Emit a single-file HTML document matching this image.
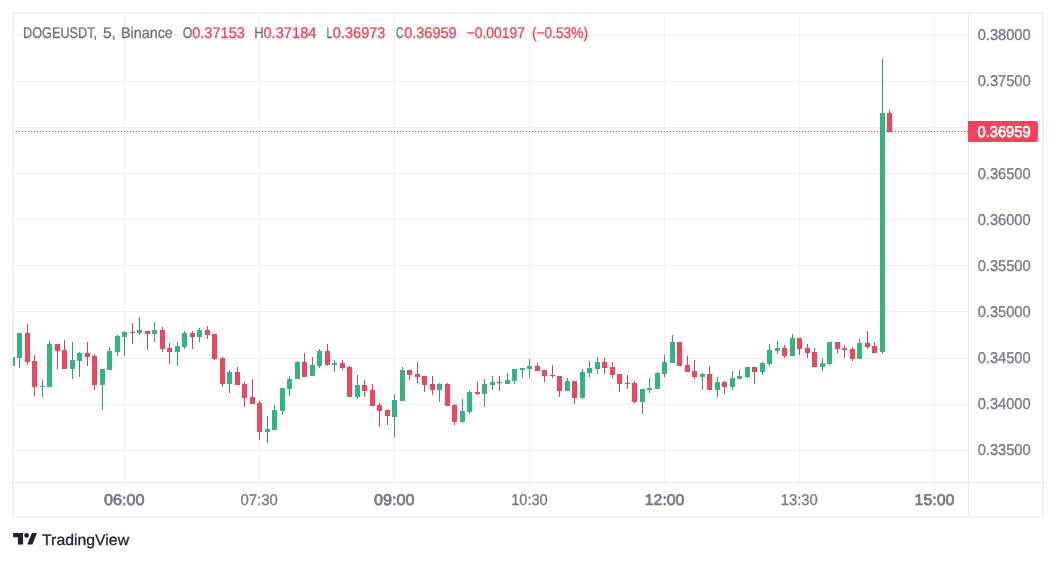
<!DOCTYPE html>
<html lang="en">
<head>
<meta charset="utf-8">
<title>DOGEUSDT chart</title>
<style>
html,body{margin:0;padding:0;background:#fff;}
body{width:1056px;height:561px;overflow:hidden;font-family:"Liberation Sans",sans-serif;}
svg{display:block;will-change:transform;}
</style>
</head>
<body>
<svg width="1056" height="561" viewBox="0 0 1056 561" text-rendering="geometricPrecision" font-family="'Liberation Sans', sans-serif">
<rect x="0" y="0" width="1056" height="561" fill="#fff"/>
<g fill="#EFEFEF" shape-rendering="crispEdges">
<rect x="14" y="35" width="954" height="1"/>
<rect x="14" y="81" width="954" height="1"/>
<rect x="14" y="127" width="954" height="1"/>
<rect x="14" y="173" width="954" height="1"/>
<rect x="14" y="219" width="954" height="1"/>
<rect x="14" y="265" width="954" height="1"/>
<rect x="14" y="311" width="954" height="1"/>
<rect x="14" y="358" width="954" height="1"/>
<rect x="14" y="404" width="954" height="1"/>
<rect x="14" y="450" width="954" height="1"/>
<rect x="124" y="14" width="1" height="468"/>
<rect x="259" y="14" width="1" height="468"/>
<rect x="394" y="14" width="1" height="468"/>
<rect x="529" y="14" width="1" height="468"/>
<rect x="664" y="14" width="1" height="468"/>
<rect x="799" y="14" width="1" height="468"/>
<rect x="934" y="14" width="1" height="468"/>
</g>
<g fill="#F0F0F1" shape-rendering="crispEdges">
<rect x="12" y="12" width="1032" height="2"/>
<rect x="12" y="516" width="1032" height="2"/>
<rect x="12" y="12" width="2" height="506"/>
<rect x="1042" y="12" width="2" height="506"/>
</g>
<g fill="#E9E9EA" shape-rendering="crispEdges">
<rect x="968" y="14" width="1" height="502"/>
<rect x="14" y="482" width="1028" height="1"/>
</g>
<rect x="14" y="130" width="954" height="3" fill="#FFF0F3" shape-rendering="crispEdges"/>
<g fill="#B4586B" shape-rendering="crispEdges">
<path d="M16 131h1v1h-1zM19 131h1v1h-1zM22 131h1v1h-1zM25 131h1v1h-1zM28 131h1v1h-1zM31 131h1v1h-1zM34 131h1v1h-1zM37 131h1v1h-1zM40 131h1v1h-1zM43 131h1v1h-1zM46 131h1v1h-1zM49 131h1v1h-1zM52 131h1v1h-1zM55 131h1v1h-1zM58 131h1v1h-1zM61 131h1v1h-1zM64 131h1v1h-1zM67 131h1v1h-1zM70 131h1v1h-1zM73 131h1v1h-1zM76 131h1v1h-1zM79 131h1v1h-1zM82 131h1v1h-1zM85 131h1v1h-1zM88 131h1v1h-1zM91 131h1v1h-1zM94 131h1v1h-1zM97 131h1v1h-1zM100 131h1v1h-1zM103 131h1v1h-1zM106 131h1v1h-1zM109 131h1v1h-1zM112 131h1v1h-1zM115 131h1v1h-1zM118 131h1v1h-1zM121 131h1v1h-1zM124 131h1v1h-1zM127 131h1v1h-1zM130 131h1v1h-1zM133 131h1v1h-1zM136 131h1v1h-1zM139 131h1v1h-1zM142 131h1v1h-1zM145 131h1v1h-1zM148 131h1v1h-1zM151 131h1v1h-1zM154 131h1v1h-1zM157 131h1v1h-1zM160 131h1v1h-1zM163 131h1v1h-1zM166 131h1v1h-1zM169 131h1v1h-1zM172 131h1v1h-1zM175 131h1v1h-1zM178 131h1v1h-1zM181 131h1v1h-1zM184 131h1v1h-1zM187 131h1v1h-1zM190 131h1v1h-1zM193 131h1v1h-1zM196 131h1v1h-1zM199 131h1v1h-1zM202 131h1v1h-1zM205 131h1v1h-1zM208 131h1v1h-1zM211 131h1v1h-1zM214 131h1v1h-1zM217 131h1v1h-1zM220 131h1v1h-1zM223 131h1v1h-1zM226 131h1v1h-1zM229 131h1v1h-1zM232 131h1v1h-1zM235 131h1v1h-1zM238 131h1v1h-1zM241 131h1v1h-1zM244 131h1v1h-1zM247 131h1v1h-1zM250 131h1v1h-1zM253 131h1v1h-1zM256 131h1v1h-1zM259 131h1v1h-1zM262 131h1v1h-1zM265 131h1v1h-1zM268 131h1v1h-1zM271 131h1v1h-1zM274 131h1v1h-1zM277 131h1v1h-1zM280 131h1v1h-1zM283 131h1v1h-1zM286 131h1v1h-1zM289 131h1v1h-1zM292 131h1v1h-1zM295 131h1v1h-1zM298 131h1v1h-1zM301 131h1v1h-1zM304 131h1v1h-1zM307 131h1v1h-1zM310 131h1v1h-1zM313 131h1v1h-1zM316 131h1v1h-1zM319 131h1v1h-1zM322 131h1v1h-1zM325 131h1v1h-1zM328 131h1v1h-1zM331 131h1v1h-1zM334 131h1v1h-1zM337 131h1v1h-1zM340 131h1v1h-1zM343 131h1v1h-1zM346 131h1v1h-1zM349 131h1v1h-1zM352 131h1v1h-1zM355 131h1v1h-1zM358 131h1v1h-1zM361 131h1v1h-1zM364 131h1v1h-1zM367 131h1v1h-1zM370 131h1v1h-1zM373 131h1v1h-1zM376 131h1v1h-1zM379 131h1v1h-1zM382 131h1v1h-1zM385 131h1v1h-1zM388 131h1v1h-1zM391 131h1v1h-1zM394 131h1v1h-1zM397 131h1v1h-1zM400 131h1v1h-1zM403 131h1v1h-1zM406 131h1v1h-1zM409 131h1v1h-1zM412 131h1v1h-1zM415 131h1v1h-1zM418 131h1v1h-1zM421 131h1v1h-1zM424 131h1v1h-1zM427 131h1v1h-1zM430 131h1v1h-1zM433 131h1v1h-1zM436 131h1v1h-1zM439 131h1v1h-1zM442 131h1v1h-1zM445 131h1v1h-1zM448 131h1v1h-1zM451 131h1v1h-1zM454 131h1v1h-1zM457 131h1v1h-1zM460 131h1v1h-1zM463 131h1v1h-1zM466 131h1v1h-1zM469 131h1v1h-1zM472 131h1v1h-1zM475 131h1v1h-1zM478 131h1v1h-1zM481 131h1v1h-1zM484 131h1v1h-1zM487 131h1v1h-1zM490 131h1v1h-1zM493 131h1v1h-1zM496 131h1v1h-1zM499 131h1v1h-1zM502 131h1v1h-1zM505 131h1v1h-1zM508 131h1v1h-1zM511 131h1v1h-1zM514 131h1v1h-1zM517 131h1v1h-1zM520 131h1v1h-1zM523 131h1v1h-1zM526 131h1v1h-1zM529 131h1v1h-1zM532 131h1v1h-1zM535 131h1v1h-1zM538 131h1v1h-1zM541 131h1v1h-1zM544 131h1v1h-1zM547 131h1v1h-1zM550 131h1v1h-1zM553 131h1v1h-1zM556 131h1v1h-1zM559 131h1v1h-1zM562 131h1v1h-1zM565 131h1v1h-1zM568 131h1v1h-1zM571 131h1v1h-1zM574 131h1v1h-1zM577 131h1v1h-1zM580 131h1v1h-1zM583 131h1v1h-1zM586 131h1v1h-1zM589 131h1v1h-1zM592 131h1v1h-1zM595 131h1v1h-1zM598 131h1v1h-1zM601 131h1v1h-1zM604 131h1v1h-1zM607 131h1v1h-1zM610 131h1v1h-1zM613 131h1v1h-1zM616 131h1v1h-1zM619 131h1v1h-1zM622 131h1v1h-1zM625 131h1v1h-1zM628 131h1v1h-1zM631 131h1v1h-1zM634 131h1v1h-1zM637 131h1v1h-1zM640 131h1v1h-1zM643 131h1v1h-1zM646 131h1v1h-1zM649 131h1v1h-1zM652 131h1v1h-1zM655 131h1v1h-1zM658 131h1v1h-1zM661 131h1v1h-1zM664 131h1v1h-1zM667 131h1v1h-1zM670 131h1v1h-1zM673 131h1v1h-1zM676 131h1v1h-1zM679 131h1v1h-1zM682 131h1v1h-1zM685 131h1v1h-1zM688 131h1v1h-1zM691 131h1v1h-1zM694 131h1v1h-1zM697 131h1v1h-1zM700 131h1v1h-1zM703 131h1v1h-1zM706 131h1v1h-1zM709 131h1v1h-1zM712 131h1v1h-1zM715 131h1v1h-1zM718 131h1v1h-1zM721 131h1v1h-1zM724 131h1v1h-1zM727 131h1v1h-1zM730 131h1v1h-1zM733 131h1v1h-1zM736 131h1v1h-1zM739 131h1v1h-1zM742 131h1v1h-1zM745 131h1v1h-1zM748 131h1v1h-1zM751 131h1v1h-1zM754 131h1v1h-1zM757 131h1v1h-1zM760 131h1v1h-1zM763 131h1v1h-1zM766 131h1v1h-1zM769 131h1v1h-1zM772 131h1v1h-1zM775 131h1v1h-1zM778 131h1v1h-1zM781 131h1v1h-1zM784 131h1v1h-1zM787 131h1v1h-1zM790 131h1v1h-1zM793 131h1v1h-1zM796 131h1v1h-1zM799 131h1v1h-1zM802 131h1v1h-1zM805 131h1v1h-1zM808 131h1v1h-1zM811 131h1v1h-1zM814 131h1v1h-1zM817 131h1v1h-1zM820 131h1v1h-1zM823 131h1v1h-1zM826 131h1v1h-1zM829 131h1v1h-1zM832 131h1v1h-1zM835 131h1v1h-1zM838 131h1v1h-1zM841 131h1v1h-1zM844 131h1v1h-1zM847 131h1v1h-1zM850 131h1v1h-1zM853 131h1v1h-1zM856 131h1v1h-1zM859 131h1v1h-1zM862 131h1v1h-1zM865 131h1v1h-1zM868 131h1v1h-1zM871 131h1v1h-1zM874 131h1v1h-1zM877 131h1v1h-1zM880 131h1v1h-1zM883 131h1v1h-1zM886 131h1v1h-1zM889 131h1v1h-1zM892 131h1v1h-1zM895 131h1v1h-1zM898 131h1v1h-1zM901 131h1v1h-1zM904 131h1v1h-1zM907 131h1v1h-1zM910 131h1v1h-1zM913 131h1v1h-1zM916 131h1v1h-1zM919 131h1v1h-1zM922 131h1v1h-1zM925 131h1v1h-1zM928 131h1v1h-1zM931 131h1v1h-1zM934 131h1v1h-1zM937 131h1v1h-1zM940 131h1v1h-1zM943 131h1v1h-1zM946 131h1v1h-1zM949 131h1v1h-1zM952 131h1v1h-1zM955 131h1v1h-1zM958 131h1v1h-1zM961 131h1v1h-1zM964 131h1v1h-1zM967 131h1v1h-1z"/>
</g>
<clipPath id="cp"><rect x="13" y="14" width="955" height="468"/></clipPath>
<g clip-path="url(#cp)" shape-rendering="crispEdges">
<rect x="10" y="357" width="5" height="9" fill="#44AB82"/>
<rect x="11" y="358" width="3" height="7" fill="#27BB84"/>
<rect x="19" y="333" width="1" height="35" fill="#35966F"/>
<rect x="17" y="333" width="5" height="25" fill="#44AB82"/>
<rect x="18" y="334" width="3" height="23" fill="#27BB84"/>
<rect x="27" y="324" width="1" height="41" fill="#CB425B"/>
<rect x="25" y="333" width="5" height="29" fill="#DA4A60"/>
<rect x="26" y="334" width="3" height="27" fill="#F5445B"/>
<rect x="34" y="355" width="1" height="41" fill="#CB425B"/>
<rect x="32" y="361" width="5" height="26" fill="#DA4A60"/>
<rect x="33" y="362" width="3" height="24" fill="#F5445B"/>
<rect x="42" y="380" width="1" height="17" fill="#35966F"/>
<rect x="40" y="386" width="5" height="1" fill="#44AB82"/>
<rect x="41" y="386" width="3" height="1" fill="#27BB84"/>
<rect x="49" y="341" width="1" height="46" fill="#35966F"/>
<rect x="47" y="344" width="5" height="43" fill="#44AB82"/>
<rect x="48" y="345" width="3" height="41" fill="#27BB84"/>
<rect x="57" y="344" width="1" height="25" fill="#CB425B"/>
<rect x="55" y="344" width="5" height="7" fill="#DA4A60"/>
<rect x="56" y="345" width="3" height="5" fill="#F5445B"/>
<rect x="64" y="340" width="1" height="29" fill="#CB425B"/>
<rect x="62" y="350" width="5" height="19" fill="#DA4A60"/>
<rect x="63" y="351" width="3" height="17" fill="#F5445B"/>
<rect x="72" y="342" width="1" height="37" fill="#35966F"/>
<rect x="70" y="360" width="5" height="9" fill="#44AB82"/>
<rect x="71" y="361" width="3" height="7" fill="#27BB84"/>
<rect x="79" y="352" width="1" height="25" fill="#35966F"/>
<rect x="77" y="353" width="5" height="8" fill="#44AB82"/>
<rect x="78" y="354" width="3" height="6" fill="#27BB84"/>
<rect x="87" y="342" width="1" height="24" fill="#CB425B"/>
<rect x="85" y="353" width="5" height="4" fill="#DA4A60"/>
<rect x="86" y="354" width="3" height="2" fill="#F5445B"/>
<rect x="94" y="354" width="1" height="36" fill="#CB425B"/>
<rect x="92" y="356" width="5" height="29" fill="#DA4A60"/>
<rect x="93" y="357" width="3" height="27" fill="#F5445B"/>
<rect x="102" y="369" width="1" height="41" fill="#35966F"/>
<rect x="100" y="369" width="5" height="16" fill="#44AB82"/>
<rect x="101" y="370" width="3" height="14" fill="#27BB84"/>
<rect x="109" y="347" width="1" height="23" fill="#35966F"/>
<rect x="107" y="351" width="5" height="19" fill="#44AB82"/>
<rect x="108" y="352" width="3" height="17" fill="#27BB84"/>
<rect x="117" y="335" width="1" height="21" fill="#35966F"/>
<rect x="115" y="336" width="5" height="16" fill="#44AB82"/>
<rect x="116" y="337" width="3" height="14" fill="#27BB84"/>
<rect x="124" y="331" width="1" height="25" fill="#35966F"/>
<rect x="122" y="332" width="5" height="5" fill="#44AB82"/>
<rect x="123" y="333" width="3" height="3" fill="#27BB84"/>
<rect x="132" y="323" width="1" height="21" fill="#CB425B"/>
<rect x="130" y="332" width="5" height="1" fill="#DA4A60"/>
<rect x="131" y="332" width="3" height="1" fill="#F5445B"/>
<rect x="139" y="317" width="1" height="18" fill="#35966F"/>
<rect x="137" y="330" width="5" height="3" fill="#44AB82"/>
<rect x="138" y="331" width="3" height="1" fill="#27BB84"/>
<rect x="147" y="331" width="1" height="19" fill="#CB425B"/>
<rect x="145" y="331" width="5" height="3" fill="#DA4A60"/>
<rect x="146" y="332" width="3" height="1" fill="#F5445B"/>
<rect x="154" y="322" width="1" height="20" fill="#35966F"/>
<rect x="152" y="330" width="5" height="4" fill="#44AB82"/>
<rect x="153" y="331" width="3" height="2" fill="#27BB84"/>
<rect x="162" y="327" width="1" height="25" fill="#CB425B"/>
<rect x="160" y="330" width="5" height="19" fill="#DA4A60"/>
<rect x="161" y="331" width="3" height="17" fill="#F5445B"/>
<rect x="169" y="343" width="1" height="21" fill="#CB425B"/>
<rect x="167" y="348" width="5" height="4" fill="#DA4A60"/>
<rect x="168" y="349" width="3" height="2" fill="#F5445B"/>
<rect x="177" y="342" width="1" height="24" fill="#35966F"/>
<rect x="175" y="346" width="5" height="6" fill="#44AB82"/>
<rect x="176" y="347" width="3" height="4" fill="#27BB84"/>
<rect x="184" y="331" width="1" height="18" fill="#35966F"/>
<rect x="182" y="333" width="5" height="14" fill="#44AB82"/>
<rect x="183" y="334" width="3" height="12" fill="#27BB84"/>
<rect x="192" y="331" width="1" height="18" fill="#CB425B"/>
<rect x="190" y="333" width="5" height="4" fill="#DA4A60"/>
<rect x="191" y="334" width="3" height="2" fill="#F5445B"/>
<rect x="199" y="328" width="1" height="14" fill="#35966F"/>
<rect x="197" y="330" width="5" height="7" fill="#44AB82"/>
<rect x="198" y="331" width="3" height="5" fill="#27BB84"/>
<rect x="207" y="326" width="1" height="13" fill="#CB425B"/>
<rect x="205" y="330" width="5" height="5" fill="#DA4A60"/>
<rect x="206" y="331" width="3" height="3" fill="#F5445B"/>
<rect x="214" y="334" width="1" height="26" fill="#CB425B"/>
<rect x="212" y="334" width="5" height="25" fill="#DA4A60"/>
<rect x="213" y="335" width="3" height="23" fill="#F5445B"/>
<rect x="222" y="357" width="1" height="30" fill="#CB425B"/>
<rect x="220" y="358" width="5" height="26" fill="#DA4A60"/>
<rect x="221" y="359" width="3" height="24" fill="#F5445B"/>
<rect x="229" y="370" width="1" height="23" fill="#35966F"/>
<rect x="227" y="372" width="5" height="12" fill="#44AB82"/>
<rect x="228" y="373" width="3" height="10" fill="#27BB84"/>
<rect x="237" y="367" width="1" height="18" fill="#CB425B"/>
<rect x="235" y="372" width="5" height="13" fill="#DA4A60"/>
<rect x="236" y="373" width="3" height="11" fill="#F5445B"/>
<rect x="244" y="382" width="1" height="25" fill="#CB425B"/>
<rect x="242" y="384" width="5" height="14" fill="#DA4A60"/>
<rect x="243" y="385" width="3" height="12" fill="#F5445B"/>
<rect x="252" y="379" width="1" height="25" fill="#CB425B"/>
<rect x="250" y="397" width="5" height="7" fill="#DA4A60"/>
<rect x="251" y="398" width="3" height="5" fill="#F5445B"/>
<rect x="259" y="401" width="1" height="39" fill="#CB425B"/>
<rect x="257" y="403" width="5" height="29" fill="#DA4A60"/>
<rect x="258" y="404" width="3" height="27" fill="#F5445B"/>
<rect x="267" y="416" width="1" height="27" fill="#35966F"/>
<rect x="265" y="429" width="5" height="3" fill="#44AB82"/>
<rect x="266" y="430" width="3" height="1" fill="#27BB84"/>
<rect x="274" y="405" width="1" height="25" fill="#35966F"/>
<rect x="272" y="410" width="5" height="20" fill="#44AB82"/>
<rect x="273" y="411" width="3" height="18" fill="#27BB84"/>
<rect x="282" y="388" width="1" height="27" fill="#35966F"/>
<rect x="280" y="388" width="5" height="23" fill="#44AB82"/>
<rect x="281" y="389" width="3" height="21" fill="#27BB84"/>
<rect x="289" y="376" width="1" height="20" fill="#35966F"/>
<rect x="287" y="379" width="5" height="10" fill="#44AB82"/>
<rect x="288" y="380" width="3" height="8" fill="#27BB84"/>
<rect x="297" y="361" width="1" height="18" fill="#35966F"/>
<rect x="295" y="362" width="5" height="17" fill="#44AB82"/>
<rect x="296" y="363" width="3" height="15" fill="#27BB84"/>
<rect x="304" y="353" width="1" height="24" fill="#CB425B"/>
<rect x="302" y="362" width="5" height="15" fill="#DA4A60"/>
<rect x="303" y="363" width="3" height="13" fill="#F5445B"/>
<rect x="312" y="357" width="1" height="19" fill="#35966F"/>
<rect x="310" y="365" width="5" height="11" fill="#44AB82"/>
<rect x="311" y="366" width="3" height="9" fill="#27BB84"/>
<rect x="319" y="349" width="1" height="19" fill="#35966F"/>
<rect x="317" y="351" width="5" height="15" fill="#44AB82"/>
<rect x="318" y="352" width="3" height="13" fill="#27BB84"/>
<rect x="327" y="344" width="1" height="22" fill="#CB425B"/>
<rect x="325" y="351" width="5" height="14" fill="#DA4A60"/>
<rect x="326" y="352" width="3" height="12" fill="#F5445B"/>
<rect x="334" y="360" width="1" height="12" fill="#35966F"/>
<rect x="332" y="363" width="5" height="2" fill="#44AB82"/>
<rect x="333" y="363" width="3" height="2" fill="#27BB84"/>
<rect x="342" y="360" width="1" height="10" fill="#CB425B"/>
<rect x="340" y="363" width="5" height="5" fill="#DA4A60"/>
<rect x="341" y="364" width="3" height="3" fill="#F5445B"/>
<rect x="349" y="366" width="1" height="31" fill="#CB425B"/>
<rect x="347" y="367" width="5" height="30" fill="#DA4A60"/>
<rect x="348" y="368" width="3" height="28" fill="#F5445B"/>
<rect x="357" y="375" width="1" height="24" fill="#35966F"/>
<rect x="355" y="385" width="5" height="12" fill="#44AB82"/>
<rect x="356" y="386" width="3" height="10" fill="#27BB84"/>
<rect x="364" y="380" width="1" height="17" fill="#CB425B"/>
<rect x="362" y="385" width="5" height="6" fill="#DA4A60"/>
<rect x="363" y="386" width="3" height="4" fill="#F5445B"/>
<rect x="372" y="384" width="1" height="22" fill="#CB425B"/>
<rect x="370" y="390" width="5" height="16" fill="#DA4A60"/>
<rect x="371" y="391" width="3" height="14" fill="#F5445B"/>
<rect x="379" y="403" width="1" height="24" fill="#CB425B"/>
<rect x="377" y="405" width="5" height="6" fill="#DA4A60"/>
<rect x="378" y="406" width="3" height="4" fill="#F5445B"/>
<rect x="387" y="410" width="1" height="15" fill="#CB425B"/>
<rect x="385" y="410" width="5" height="6" fill="#DA4A60"/>
<rect x="386" y="411" width="3" height="4" fill="#F5445B"/>
<rect x="394" y="394" width="1" height="43" fill="#35966F"/>
<rect x="392" y="400" width="5" height="17" fill="#44AB82"/>
<rect x="393" y="401" width="3" height="15" fill="#27BB84"/>
<rect x="402" y="367" width="1" height="34" fill="#35966F"/>
<rect x="400" y="370" width="5" height="31" fill="#44AB82"/>
<rect x="401" y="371" width="3" height="29" fill="#27BB84"/>
<rect x="409" y="370" width="1" height="10" fill="#CB425B"/>
<rect x="407" y="370" width="5" height="5" fill="#DA4A60"/>
<rect x="408" y="371" width="3" height="3" fill="#F5445B"/>
<rect x="417" y="362" width="1" height="21" fill="#CB425B"/>
<rect x="415" y="374" width="5" height="3" fill="#DA4A60"/>
<rect x="416" y="375" width="3" height="1" fill="#F5445B"/>
<rect x="424" y="376" width="1" height="16" fill="#CB425B"/>
<rect x="422" y="376" width="5" height="9" fill="#DA4A60"/>
<rect x="423" y="377" width="3" height="7" fill="#F5445B"/>
<rect x="432" y="376" width="1" height="19" fill="#CB425B"/>
<rect x="430" y="384" width="5" height="6" fill="#DA4A60"/>
<rect x="431" y="385" width="3" height="4" fill="#F5445B"/>
<rect x="439" y="383" width="1" height="19" fill="#35966F"/>
<rect x="437" y="384" width="5" height="6" fill="#44AB82"/>
<rect x="438" y="385" width="3" height="4" fill="#27BB84"/>
<rect x="447" y="383" width="1" height="23" fill="#CB425B"/>
<rect x="445" y="384" width="5" height="22" fill="#DA4A60"/>
<rect x="446" y="385" width="3" height="20" fill="#F5445B"/>
<rect x="454" y="404" width="1" height="21" fill="#CB425B"/>
<rect x="452" y="405" width="5" height="17" fill="#DA4A60"/>
<rect x="453" y="406" width="3" height="15" fill="#F5445B"/>
<rect x="462" y="399" width="1" height="24" fill="#35966F"/>
<rect x="460" y="411" width="5" height="11" fill="#44AB82"/>
<rect x="461" y="412" width="3" height="9" fill="#27BB84"/>
<rect x="469" y="390" width="1" height="24" fill="#35966F"/>
<rect x="467" y="392" width="5" height="20" fill="#44AB82"/>
<rect x="468" y="393" width="3" height="18" fill="#27BB84"/>
<rect x="477" y="382" width="1" height="13" fill="#CB425B"/>
<rect x="475" y="392" width="5" height="2" fill="#DA4A60"/>
<rect x="476" y="392" width="3" height="2" fill="#F5445B"/>
<rect x="484" y="379" width="1" height="28" fill="#35966F"/>
<rect x="482" y="384" width="5" height="10" fill="#44AB82"/>
<rect x="483" y="385" width="3" height="8" fill="#27BB84"/>
<rect x="492" y="376" width="1" height="14" fill="#35966F"/>
<rect x="490" y="382" width="5" height="3" fill="#44AB82"/>
<rect x="491" y="383" width="3" height="1" fill="#27BB84"/>
<rect x="499" y="376" width="1" height="15" fill="#CB425B"/>
<rect x="497" y="382" width="5" height="1" fill="#DA4A60"/>
<rect x="498" y="382" width="3" height="1" fill="#F5445B"/>
<rect x="507" y="373" width="1" height="11" fill="#35966F"/>
<rect x="505" y="380" width="5" height="4" fill="#44AB82"/>
<rect x="506" y="381" width="3" height="2" fill="#27BB84"/>
<rect x="514" y="369" width="1" height="15" fill="#35966F"/>
<rect x="512" y="369" width="5" height="12" fill="#44AB82"/>
<rect x="513" y="370" width="3" height="10" fill="#27BB84"/>
<rect x="522" y="368" width="1" height="10" fill="#35966F"/>
<rect x="520" y="368" width="5" height="2" fill="#44AB82"/>
<rect x="521" y="368" width="3" height="2" fill="#27BB84"/>
<rect x="529" y="359" width="1" height="19" fill="#35966F"/>
<rect x="527" y="366" width="5" height="3" fill="#44AB82"/>
<rect x="528" y="367" width="3" height="1" fill="#27BB84"/>
<rect x="537" y="363" width="1" height="8" fill="#CB425B"/>
<rect x="535" y="366" width="5" height="5" fill="#DA4A60"/>
<rect x="536" y="367" width="3" height="3" fill="#F5445B"/>
<rect x="544" y="370" width="1" height="12" fill="#CB425B"/>
<rect x="542" y="370" width="5" height="6" fill="#DA4A60"/>
<rect x="543" y="371" width="3" height="4" fill="#F5445B"/>
<rect x="552" y="365" width="1" height="13" fill="#CB425B"/>
<rect x="550" y="375" width="5" height="1" fill="#DA4A60"/>
<rect x="551" y="375" width="3" height="1" fill="#F5445B"/>
<rect x="559" y="376" width="1" height="21" fill="#CB425B"/>
<rect x="557" y="376" width="5" height="15" fill="#DA4A60"/>
<rect x="558" y="377" width="3" height="13" fill="#F5445B"/>
<rect x="567" y="378" width="1" height="13" fill="#35966F"/>
<rect x="565" y="381" width="5" height="10" fill="#44AB82"/>
<rect x="566" y="382" width="3" height="8" fill="#27BB84"/>
<rect x="574" y="381" width="1" height="23" fill="#CB425B"/>
<rect x="572" y="381" width="5" height="17" fill="#DA4A60"/>
<rect x="573" y="382" width="3" height="15" fill="#F5445B"/>
<rect x="582" y="369" width="1" height="30" fill="#35966F"/>
<rect x="580" y="372" width="5" height="26" fill="#44AB82"/>
<rect x="581" y="373" width="3" height="24" fill="#27BB84"/>
<rect x="589" y="361" width="1" height="16" fill="#35966F"/>
<rect x="587" y="368" width="5" height="5" fill="#44AB82"/>
<rect x="588" y="369" width="3" height="3" fill="#27BB84"/>
<rect x="597" y="357" width="1" height="17" fill="#35966F"/>
<rect x="595" y="362" width="5" height="7" fill="#44AB82"/>
<rect x="596" y="363" width="3" height="5" fill="#27BB84"/>
<rect x="604" y="358" width="1" height="16" fill="#CB425B"/>
<rect x="602" y="362" width="5" height="6" fill="#DA4A60"/>
<rect x="603" y="363" width="3" height="4" fill="#F5445B"/>
<rect x="612" y="362" width="1" height="16" fill="#CB425B"/>
<rect x="610" y="367" width="5" height="8" fill="#DA4A60"/>
<rect x="611" y="368" width="3" height="6" fill="#F5445B"/>
<rect x="619" y="374" width="1" height="18" fill="#CB425B"/>
<rect x="617" y="374" width="5" height="10" fill="#DA4A60"/>
<rect x="618" y="375" width="3" height="8" fill="#F5445B"/>
<rect x="627" y="375" width="1" height="14" fill="#CB425B"/>
<rect x="625" y="383" width="5" height="1" fill="#DA4A60"/>
<rect x="626" y="383" width="3" height="1" fill="#F5445B"/>
<rect x="634" y="381" width="1" height="22" fill="#CB425B"/>
<rect x="632" y="383" width="5" height="19" fill="#DA4A60"/>
<rect x="633" y="384" width="3" height="17" fill="#F5445B"/>
<rect x="642" y="389" width="1" height="25" fill="#35966F"/>
<rect x="640" y="389" width="5" height="13" fill="#44AB82"/>
<rect x="641" y="390" width="3" height="11" fill="#27BB84"/>
<rect x="649" y="378" width="1" height="15" fill="#35966F"/>
<rect x="647" y="388" width="5" height="2" fill="#44AB82"/>
<rect x="648" y="388" width="3" height="2" fill="#27BB84"/>
<rect x="657" y="372" width="1" height="17" fill="#35966F"/>
<rect x="655" y="373" width="5" height="16" fill="#44AB82"/>
<rect x="656" y="374" width="3" height="14" fill="#27BB84"/>
<rect x="664" y="355" width="1" height="22" fill="#35966F"/>
<rect x="662" y="362" width="5" height="12" fill="#44AB82"/>
<rect x="663" y="363" width="3" height="10" fill="#27BB84"/>
<rect x="672" y="335" width="1" height="28" fill="#35966F"/>
<rect x="670" y="342" width="5" height="21" fill="#44AB82"/>
<rect x="671" y="343" width="3" height="19" fill="#27BB84"/>
<rect x="677" y="342" width="5" height="24" fill="#DA4A60"/>
<rect x="678" y="343" width="3" height="22" fill="#F5445B"/>
<rect x="687" y="356" width="1" height="16" fill="#CB425B"/>
<rect x="685" y="365" width="5" height="7" fill="#DA4A60"/>
<rect x="686" y="366" width="3" height="5" fill="#F5445B"/>
<rect x="694" y="360" width="1" height="19" fill="#CB425B"/>
<rect x="692" y="371" width="5" height="6" fill="#DA4A60"/>
<rect x="693" y="372" width="3" height="4" fill="#F5445B"/>
<rect x="702" y="373" width="1" height="17" fill="#35966F"/>
<rect x="700" y="374" width="5" height="3" fill="#44AB82"/>
<rect x="701" y="375" width="3" height="1" fill="#27BB84"/>
<rect x="709" y="366" width="1" height="24" fill="#CB425B"/>
<rect x="707" y="374" width="5" height="16" fill="#DA4A60"/>
<rect x="708" y="375" width="3" height="14" fill="#F5445B"/>
<rect x="717" y="377" width="1" height="20" fill="#35966F"/>
<rect x="715" y="382" width="5" height="8" fill="#44AB82"/>
<rect x="716" y="383" width="3" height="6" fill="#27BB84"/>
<rect x="724" y="381" width="1" height="13" fill="#CB425B"/>
<rect x="722" y="382" width="5" height="5" fill="#DA4A60"/>
<rect x="723" y="383" width="3" height="3" fill="#F5445B"/>
<rect x="732" y="371" width="1" height="19" fill="#35966F"/>
<rect x="730" y="378" width="5" height="9" fill="#44AB82"/>
<rect x="731" y="379" width="3" height="7" fill="#27BB84"/>
<rect x="739" y="370" width="1" height="9" fill="#35966F"/>
<rect x="737" y="376" width="5" height="3" fill="#44AB82"/>
<rect x="738" y="377" width="3" height="1" fill="#27BB84"/>
<rect x="747" y="367" width="1" height="11" fill="#35966F"/>
<rect x="745" y="367" width="5" height="10" fill="#44AB82"/>
<rect x="746" y="368" width="3" height="8" fill="#27BB84"/>
<rect x="754" y="367" width="1" height="17" fill="#CB425B"/>
<rect x="752" y="367" width="5" height="5" fill="#DA4A60"/>
<rect x="753" y="368" width="3" height="3" fill="#F5445B"/>
<rect x="762" y="362" width="1" height="13" fill="#35966F"/>
<rect x="760" y="363" width="5" height="9" fill="#44AB82"/>
<rect x="761" y="364" width="3" height="7" fill="#27BB84"/>
<rect x="769" y="344" width="1" height="22" fill="#35966F"/>
<rect x="767" y="350" width="5" height="14" fill="#44AB82"/>
<rect x="768" y="351" width="3" height="12" fill="#27BB84"/>
<rect x="777" y="341" width="1" height="13" fill="#35966F"/>
<rect x="775" y="348" width="5" height="3" fill="#44AB82"/>
<rect x="776" y="349" width="3" height="1" fill="#27BB84"/>
<rect x="784" y="345" width="1" height="13" fill="#CB425B"/>
<rect x="782" y="348" width="5" height="8" fill="#DA4A60"/>
<rect x="783" y="349" width="3" height="6" fill="#F5445B"/>
<rect x="792" y="334" width="1" height="22" fill="#35966F"/>
<rect x="790" y="338" width="5" height="18" fill="#44AB82"/>
<rect x="791" y="339" width="3" height="16" fill="#27BB84"/>
<rect x="799" y="338" width="1" height="17" fill="#CB425B"/>
<rect x="797" y="338" width="5" height="11" fill="#DA4A60"/>
<rect x="798" y="339" width="3" height="9" fill="#F5445B"/>
<rect x="807" y="344" width="1" height="14" fill="#CB425B"/>
<rect x="805" y="348" width="5" height="5" fill="#DA4A60"/>
<rect x="806" y="349" width="3" height="3" fill="#F5445B"/>
<rect x="814" y="348" width="1" height="19" fill="#CB425B"/>
<rect x="812" y="352" width="5" height="15" fill="#DA4A60"/>
<rect x="813" y="353" width="3" height="13" fill="#F5445B"/>
<rect x="822" y="358" width="1" height="13" fill="#35966F"/>
<rect x="820" y="363" width="5" height="4" fill="#44AB82"/>
<rect x="821" y="364" width="3" height="2" fill="#27BB84"/>
<rect x="829" y="342" width="1" height="23" fill="#35966F"/>
<rect x="827" y="342" width="5" height="22" fill="#44AB82"/>
<rect x="828" y="343" width="3" height="20" fill="#27BB84"/>
<rect x="837" y="342" width="1" height="11" fill="#CB425B"/>
<rect x="835" y="342" width="5" height="7" fill="#DA4A60"/>
<rect x="836" y="343" width="3" height="5" fill="#F5445B"/>
<rect x="844" y="345" width="1" height="13" fill="#CB425B"/>
<rect x="842" y="348" width="5" height="2" fill="#DA4A60"/>
<rect x="843" y="348" width="3" height="2" fill="#F5445B"/>
<rect x="852" y="347" width="1" height="14" fill="#CB425B"/>
<rect x="850" y="349" width="5" height="10" fill="#DA4A60"/>
<rect x="851" y="350" width="3" height="8" fill="#F5445B"/>
<rect x="859" y="339" width="1" height="20" fill="#35966F"/>
<rect x="857" y="343" width="5" height="16" fill="#44AB82"/>
<rect x="858" y="344" width="3" height="14" fill="#27BB84"/>
<rect x="867" y="331" width="1" height="18" fill="#CB425B"/>
<rect x="865" y="343" width="5" height="4" fill="#DA4A60"/>
<rect x="866" y="344" width="3" height="2" fill="#F5445B"/>
<rect x="874" y="342" width="1" height="11" fill="#CB425B"/>
<rect x="872" y="346" width="5" height="7" fill="#DA4A60"/>
<rect x="873" y="347" width="3" height="5" fill="#F5445B"/>
<rect x="882" y="59" width="1" height="295" fill="#35966F"/>
<rect x="880" y="113" width="5" height="239" fill="#44AB82"/>
<rect x="881" y="114" width="3" height="237" fill="#27BB84"/>
<rect x="889" y="110" width="1" height="22" fill="#CB425B"/>
<rect x="887" y="113" width="5" height="19" fill="#DA4A60"/>
<rect x="888" y="114" width="3" height="17" fill="#F5445B"/>
</g>
<text transform="translate(977.65,39.87) scale(0.9401,1)" font-size="15.6" stroke="#757883" stroke-width="0.3" stroke-linejoin="round" fill="#757883">0.38000</text>
<text transform="translate(977.65,85.87) scale(0.9401,1)" font-size="15.6" stroke="#757883" stroke-width="0.3" stroke-linejoin="round" fill="#757883">0.37500</text>
<text transform="translate(977.65,178.87) scale(0.9401,1)" font-size="15.6" stroke="#757883" stroke-width="0.3" stroke-linejoin="round" fill="#757883">0.36500</text>
<text transform="translate(977.65,224.87) scale(0.9401,1)" font-size="15.6" stroke="#757883" stroke-width="0.3" stroke-linejoin="round" fill="#757883">0.36000</text>
<text transform="translate(977.65,270.87) scale(0.9401,1)" font-size="15.6" stroke="#757883" stroke-width="0.3" stroke-linejoin="round" fill="#757883">0.35500</text>
<text transform="translate(977.65,316.87) scale(0.9401,1)" font-size="15.6" stroke="#757883" stroke-width="0.3" stroke-linejoin="round" fill="#757883">0.35000</text>
<text transform="translate(977.65,362.87) scale(0.9401,1)" font-size="15.6" stroke="#757883" stroke-width="0.3" stroke-linejoin="round" fill="#757883">0.34500</text>
<text transform="translate(977.65,408.87) scale(0.9401,1)" font-size="15.6" stroke="#757883" stroke-width="0.3" stroke-linejoin="round" fill="#757883">0.34000</text>
<text transform="translate(977.65,454.87) scale(0.9401,1)" font-size="15.6" stroke="#757883" stroke-width="0.3" stroke-linejoin="round" fill="#757883">0.33500</text>
<path d="M968 121h67.5a2.5 2.5 0 0 1 2.5 2.5v16a2.5 2.5 0 0 1 -2.5 2.5h-67.5z" fill="#F5435B"/>
<text transform="translate(977.52,136.97) scale(0.9422,1)" font-size="15.6" stroke="#ffffff" stroke-width="0.65" stroke-linejoin="round" fill="#ffffff">0.36959</text>
<text transform="translate(104.02,504.68) scale(1.0447,1)" font-size="15.5" stroke="#757883" stroke-width="0.7" stroke-linejoin="round" fill="#757883">06:00</text>
<text transform="translate(240.45,504.68) scale(0.9607,1)" font-size="15.5" stroke="#757883" stroke-width="0.3" stroke-linejoin="round" fill="#757883">07:30</text>
<text transform="translate(373.92,504.68) scale(1.0447,1)" font-size="15.5" stroke="#757883" stroke-width="0.7" stroke-linejoin="round" fill="#757883">09:00</text>
<text transform="translate(511.15,504.68) scale(0.9426,1)" font-size="15.5" stroke="#757883" stroke-width="0.3" stroke-linejoin="round" fill="#757883">10:30</text>
<text transform="translate(644.77,504.68) scale(1.0227,1)" font-size="15.5" stroke="#757883" stroke-width="0.7" stroke-linejoin="round" fill="#757883">12:00</text>
<text transform="translate(780.84,504.68) scale(0.9506,1)" font-size="15.5" stroke="#757883" stroke-width="0.3" stroke-linejoin="round" fill="#757883">13:30</text>
<text transform="translate(914.56,504.68) scale(1.0280,1)" font-size="15.5" stroke="#757883" stroke-width="0.7" stroke-linejoin="round" fill="#757883">15:00</text>
<text transform="translate(23.01,37.70) scale(0.8248,1)" font-size="15.4" stroke="#6E717C" stroke-width="0.3" stroke-linejoin="round" fill="#6E717C">DOGEUSDT,</text>
<text transform="translate(102.93,37.70) scale(1.0039,1)" font-size="15.4" stroke="#6E717C" stroke-width="0.3" stroke-linejoin="round" fill="#6E717C">5,</text>
<text transform="translate(120.89,37.70) scale(0.9344,1)" font-size="15.4" stroke="#6E717C" stroke-width="0.3" stroke-linejoin="round" fill="#6E717C">Binance</text>
<text transform="translate(182.66,37.70) scale(0.8019,1)" font-size="15.4" stroke="#6E717C" stroke-width="0.3" stroke-linejoin="round" fill="#6E717C">O</text>
<text transform="translate(192.16,37.70) scale(0.9481,1)" font-size="15.4" stroke="#EE4359" stroke-width="0.3" stroke-linejoin="round" fill="#EE4359">0.37153</text>
<text transform="translate(254.28,37.70) scale(0.8516,1)" font-size="15.4" stroke="#6E717C" stroke-width="0.3" stroke-linejoin="round" fill="#6E717C">H</text>
<text transform="translate(263.46,37.70) scale(0.9528,1)" font-size="15.4" stroke="#EE4359" stroke-width="0.3" stroke-linejoin="round" fill="#EE4359">0.37184</text>
<text transform="translate(326.47,37.70) scale(0.6710,1)" font-size="15.4" stroke="#6E717C" stroke-width="0.3" stroke-linejoin="round" fill="#6E717C">L</text>
<text transform="translate(332.86,37.70) scale(0.9445,1)" font-size="15.4" stroke="#EE4359" stroke-width="0.3" stroke-linejoin="round" fill="#EE4359">0.36973</text>
<text transform="translate(395.88,37.70) scale(0.6846,1)" font-size="15.4" stroke="#6E717C" stroke-width="0.3" stroke-linejoin="round" fill="#6E717C">C</text>
<text transform="translate(404.16,37.70) scale(0.9440,1)" font-size="15.4" stroke="#EE4359" stroke-width="0.3" stroke-linejoin="round" fill="#EE4359">0.36959</text>
<text transform="translate(466.64,37.70) scale(0.9032,1)" font-size="15.4" stroke="#EE4359" stroke-width="0.3" stroke-linejoin="round" fill="#EE4359">−0.00197</text>
<text transform="translate(531.91,37.70) scale(0.8931,1)" font-size="15.4" stroke="#EE4359" stroke-width="0.3" stroke-linejoin="round" fill="#EE4359">(−0.53%)</text>
<g fill="#1E222D">
<path d="M13.1 532.9H23.1V544.6H17.9V537.2H13.1Z"/><circle cx="26.6" cy="535.4" r="2.4"/><path d="M31.9 532.9H37L32.4 544.6H27.3Z"/>
</g>
<text transform="translate(42.04,544.50) scale(1.0342,1)" font-size="15.3" stroke="#1E222D" stroke-width="0.3" stroke-linejoin="round" fill="#1E222D">TradingView</text>
</svg>
</body>
</html>
